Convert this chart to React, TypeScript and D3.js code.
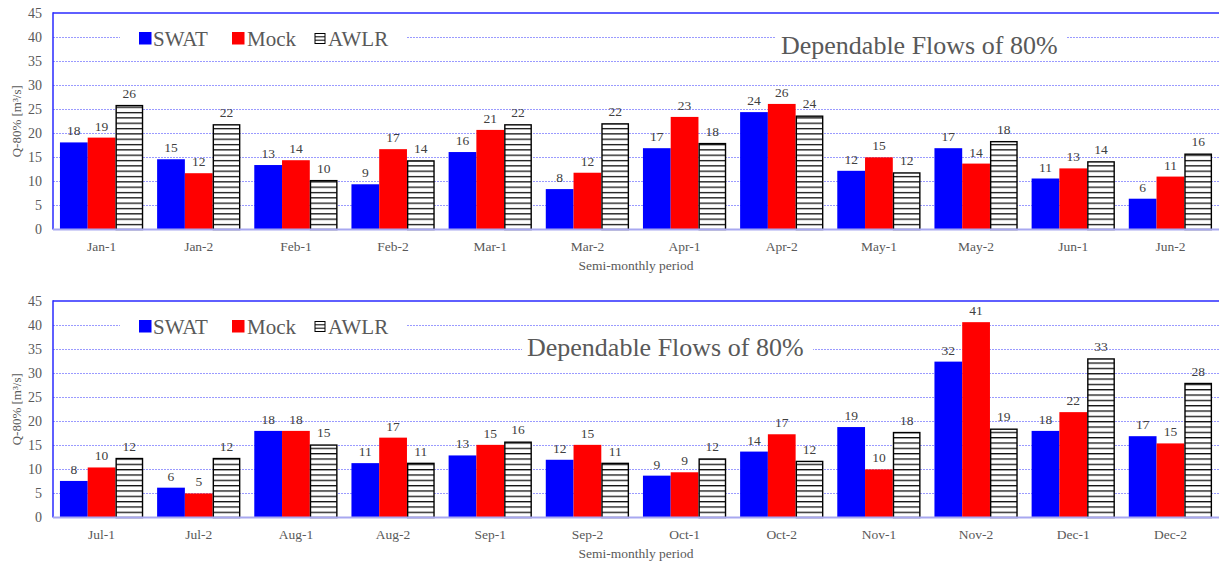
import React from "react";
import * as d3 from "d3";

const seriesNames = ["SWAT", "Mock", "AWLR"];
const seriesColors = ["#0000ff", "#ff0000", "url(#hlines)"];

const catsTop = ["Jan-1", "Jan-2", "Feb-1", "Feb-2", "Mar-1", "Mar-2", "Apr-1", "Apr-2", "May-1", "May-2", "Jun-1", "Jun-2"];
const swatTop = [18.1, 14.6, 13.4, 9.4, 16.1, 8.4, 16.9, 24.4, 12.2, 16.9, 10.6, 6.4];
const mockTop = [19.1, 11.7, 14.4, 16.7, 20.7, 11.8, 23.4, 26.1, 15.0, 13.7, 12.7, 11.0];
const awlrTop = [25.9, 21.9, 10.3, 14.4, 21.9, 22.1, 18.0, 23.7, 11.9, 18.4, 14.2, 15.8];

const catsBottom = ["Jul-1", "Jul-2", "Aug-1", "Aug-2", "Sep-1", "Sep-2", "Oct-1", "Oct-2", "Nov-1", "Nov-2", "Dec-1", "Dec-2"];
const swatBottom = [7.6, 6.2, 18.0, 11.3, 12.9, 12.0, 8.7, 13.7, 18.8, 32.4, 18.0, 16.9];
const mockBottom = [10.4, 5.0, 18.0, 16.6, 15.1, 15.1, 9.4, 17.3, 10.0, 40.6, 21.9, 15.4];
const awlrBottom = [12.4, 12.4, 15.2, 11.4, 15.8, 11.4, 12.3, 11.8, 17.8, 18.5, 33.1, 28.0];

const yTicks = [0, 5, 10, 15, 20, 25, 30, 35, 40, 45];
const titleText = "Dependable Flows of 80%";
const xTitle = "Semi-monthly period";
const yTitle = "Q-80% [m³/s]";

const FONT = '"Liberation Serif", Tinos, "Times New Roman", "DejaVu Serif", serif';
const W = 1219;
const H = 564;
const left = 53;
const right = 1219;
const plotH = 216.5;

type PanelProps = {
  top: number;
  cats: string[];
  data: number[][];
  titleX: number;
  titleBaseline: number;
};

function Panel({ top, cats, data, titleX, titleBaseline }: PanelProps) {
  const y = d3.scaleLinear().domain([0, 45]).range([top + plotH, top]);
  const x = d3.scaleBand<string>().domain(cats).range([left, right]).paddingInner(0.143).paddingOuter(0.0715);
  const xs = d3.scaleBand<string>().domain(seriesNames).range([0, x.bandwidth()]);
  const fmt = d3.format(".0f");
  const y0 = y(0);

  const legendY = top + 25.5;
  const legendItems = [
    { name: "SWAT", mx: 139, tx: 153 },
    { name: "Mock", mx: 232, tx: 247 },
    { name: "AWLR", mx: 315, tx: 328 },
  ];

  return (
    <g>
      {yTicks.filter((t) => t > 0 && t < 45).map((t) => (
        <line key={"g" + t} x1={left} x2={right} y1={Math.round(y(t)) + 0.5} y2={Math.round(y(t)) + 0.5} stroke="#9a9aff" strokeWidth={1} strokeDasharray="2,1" />
      ))}
      <line x1={left} x2={right} y1={y(45)} y2={y(45)} stroke="#2a2aff" strokeWidth={1.5} />
      <rect x={120} y={legendY - 11} width={286} height={22} fill="#ffffff" />
      <rect x={titleX - 5} y={titleBaseline - 22} width={291} height={28} fill="#ffffff" />
      {cats.map((c, i) => (
        <g key={c}>
          {seriesNames.map((s, j) => {
            const v = data[j][i];
            const bx = (x(c) as number) + (xs(s) as number);
            const bw = xs.bandwidth();
            const by = y(v);
            return (
              <g key={s}>
                <rect
                  x={j === 2 ? bx + 0.7 : bx}
                  y={j === 2 ? by + 0.7 : by}
                  width={j === 2 ? bw - 1.4 : bw}
                  height={j === 2 ? y0 - by - 0.7 : y0 - by}
                  fill={seriesColors[j]}
                  stroke={j === 2 ? "#000000" : "none"}
                  strokeWidth={j === 2 ? 1.4 : 0}
                />
                <text x={bx + bw / 2} y={by - 7} textAnchor="middle" style={{ fontFamily: FONT, fontSize: 13.5 }} fill="#404040">
                  {fmt(v)}
                </text>
              </g>
            );
          })}
        </g>
      ))}
      <line x1={left} x2={left} y1={y(45) - 0.75} y2={y0} stroke="#2a2aff" strokeWidth={1.5} />
      <line x1={left} x2={right} y1={y0} y2={y0} stroke="#a8a8f0" strokeWidth={2} />
      {yTicks.map((t) => (
        <text key={"t" + t} x={42} y={y(t)} dy="0.33em" textAnchor="end" style={{ fontFamily: FONT, fontSize: 14 }} fill="#595959">
          {t}
        </text>
      ))}
      {cats.map((c) => (
        <text key={"x" + c} x={(x(c) as number) + x.bandwidth() / 2} y={y0 + 21} textAnchor="middle" style={{ fontFamily: FONT, fontSize: 13.5 }} fill="#595959">
          {c}
        </text>
      ))}
      <text x={(left + right) / 2} y={y0 + 40.5} textAnchor="middle" style={{ fontFamily: FONT, fontSize: 13.5 }} fill="#595959">
        {xTitle}
      </text>
      <text
        transform={`translate(21,${(y(45) + y0) / 2}) rotate(-90)`}
        textAnchor="middle"
        style={{ fontFamily: FONT, fontSize: 13 }}
        fill="#595959"
      >
        {yTitle}
      </text>
      {legendItems.map((it, j) => (
        <g key={it.name}>
          {j < 2 ? (
            <rect x={it.mx} y={legendY - 6.5} width={12.5} height={12.5} fill={seriesColors[j]} />
          ) : (
            <g>
              <rect x={it.mx} y={legendY - 5} width={10} height={10} fill="#ffffff" stroke="#000" strokeWidth={1} />
              <line x1={it.mx} x2={it.mx + 10} y1={legendY - 1.7} y2={legendY - 1.7} stroke="#000" strokeWidth={1} />
              <line x1={it.mx} x2={it.mx + 10} y1={legendY + 1.7} y2={legendY + 1.7} stroke="#000" strokeWidth={1} />
            </g>
          )}
          <text x={it.tx} y={legendY} dy="0.35em" style={{ fontFamily: FONT, fontSize: 21 }} fill="#595959">
            {it.name}
          </text>
        </g>
      ))}
      <text x={titleX} y={titleBaseline} style={{ fontFamily: FONT, fontSize: 26 }} fill="#595959">
        {titleText}
      </text>
    </g>
  );
}

export default function App() {
  return (
    <svg width={W} height={H} style={{ position: "absolute", left: 0, top: 0, background: "#ffffff" }}>
      <defs>
        <pattern id="hlines" patternUnits="userSpaceOnUse" width={8} height={5.33}>
          <rect x={0} y={0} width={8} height={5.33} fill="#ffffff" />
          <rect x={0} y={0} width={8} height={1.3} fill="#111111" />
        </pattern>
      </defs>
      <Panel top={13} cats={catsTop} data={[swatTop, mockTop, awlrTop]} titleX={781} titleBaseline={53.5} />
      <Panel top={301} cats={catsBottom} data={[swatBottom, mockBottom, awlrBottom]} titleX={527} titleBaseline={355.7} />
    </svg>
  );
}
